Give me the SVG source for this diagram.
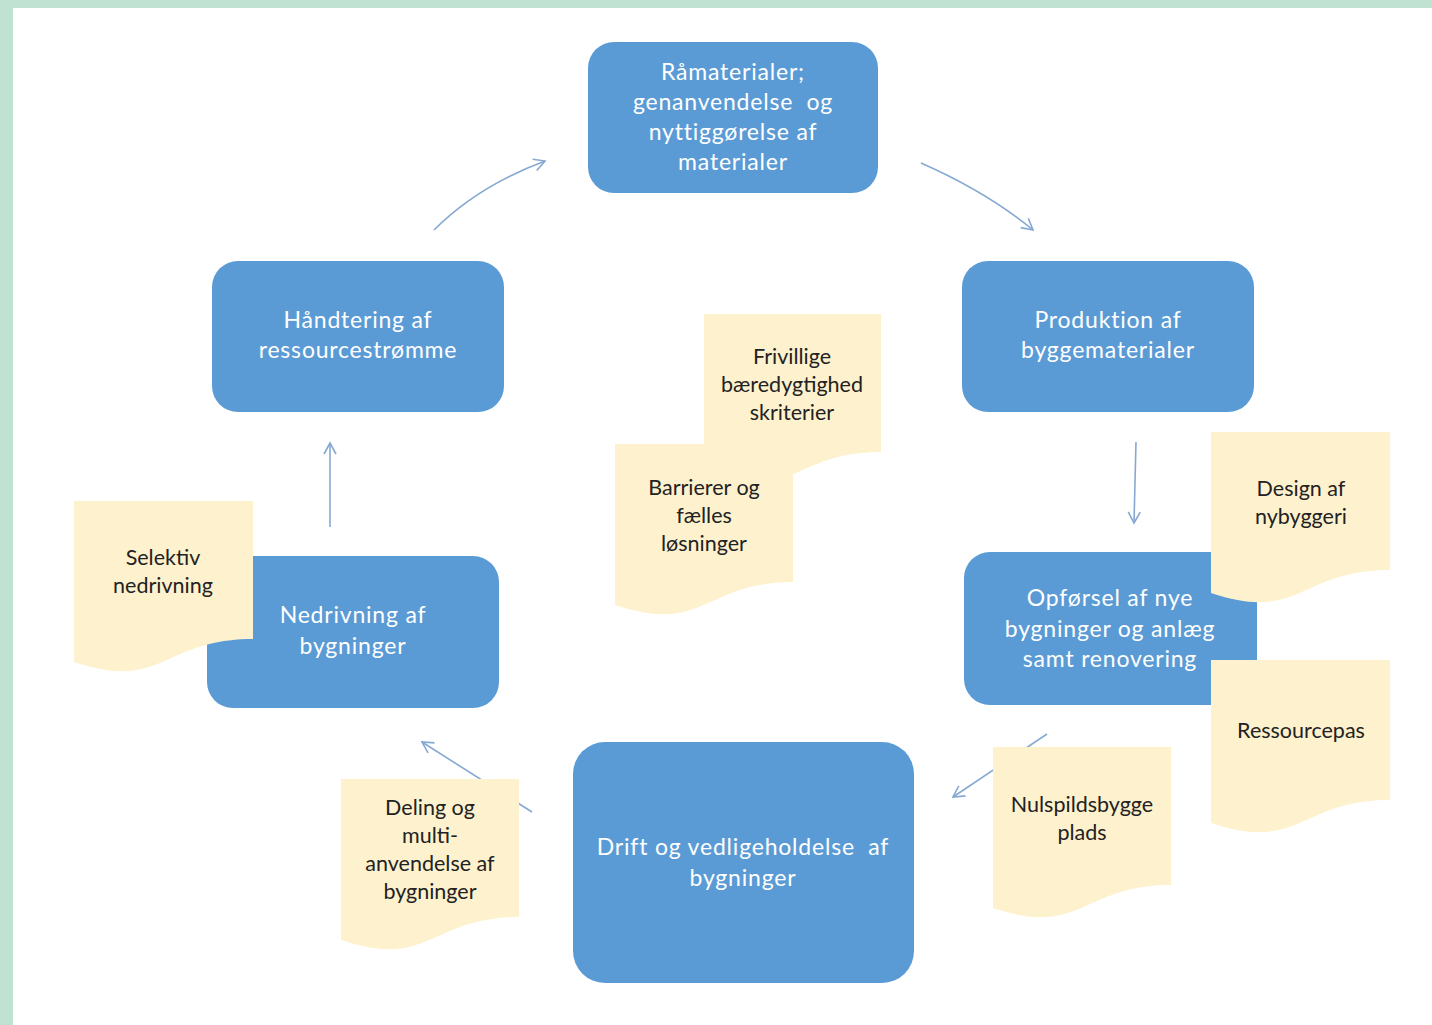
<svg xmlns="http://www.w3.org/2000/svg" width="1432" height="1025" viewBox="0 0 1432 1025">
<style>
.box{fill:#5B9BD5}
.doc{fill:#FEF1CD}
.bt{font-family:Lato,"Open Sans","Liberation Sans",sans-serif;font-size:23px;fill:#fff;text-anchor:middle;letter-spacing:0.8px;white-space:pre}
.dt{font-family:Lato,"Open Sans","Liberation Sans",sans-serif;font-size:21.5px;fill:#222;text-anchor:middle}
.arr{fill:none;stroke:#86A9D2;stroke-width:1.6}
</style>
<defs>
<marker id="ah" viewBox="0 0 14 14" refX="12" refY="7" markerWidth="14" markerHeight="14" markerUnits="userSpaceOnUse" orient="auto">
<path d="M1,1 L12,7 L1,13" fill="none" stroke="#86A9D2" stroke-width="1.6"/>
</marker>
</defs>
<rect width="1432" height="1025" fill="#C0E2D2"/>
<rect x="13" y="8" width="1419" height="1017" fill="#fff"/>

<g id="connectors">
<path class="arr" d="M434,230 Q478,186 545,161" marker-end="url(#ah)"/>
<path class="arr" d="M921,163 Q987,192 1033,230" marker-end="url(#ah)"/>
<path class="arr" d="M1136,442 L1134,523" marker-end="url(#ah)"/>
<path class="arr" d="M1047,734 L953,797" marker-end="url(#ah)"/>
<path class="arr" d="M532,812 L422,742" marker-end="url(#ah)"/>
<path class="arr" d="M330,527 L330,443" marker-end="url(#ah)"/>
</g>

<g id="n-ramaterialer">
<rect class="box" x="588" y="42" width="290" height="151" rx="26"/>
<text class="bt" x="733" y="80">Råmaterialer;</text>
<text class="bt" x="733" y="110" xml:space="preserve">genanvendelse  og</text>
<text class="bt" x="733" y="140">nyttiggørelse af</text>
<text class="bt" x="733" y="170">materialer</text>
</g>

<g id="n-produktion">
<rect class="box" x="962" y="261" width="292" height="151" rx="26"/>
<text class="bt" x="1108" y="328">Produktion af</text>
<text class="bt" x="1108" y="358">byggematerialer</text>
</g>

<g id="n-handtering">
<rect class="box" x="212" y="261" width="292" height="151" rx="26"/>
<text class="bt" x="358" y="328">Håndtering af</text>
<text class="bt" x="358" y="358">ressourcestrømme</text>
</g>

<g id="n-opforsel">
<rect class="box" x="964" y="552" width="293" height="153" rx="26"/>
<text class="bt" x="1110" y="606">Opførsel af nye</text>
<text class="bt" x="1110" y="637">bygninger og anlæg</text>
<text class="bt" x="1110" y="667">samt renovering</text>
</g>

<g id="n-drift">
<rect class="box" x="573" y="742" width="341" height="241" rx="32"/>
<text class="bt" x="743" y="855" xml:space="preserve">Drift og vedligeholdelse  af</text>
<text class="bt" x="743" y="886">bygninger</text>
</g>

<g id="n-nedrivning">
<rect class="box" x="207" y="556" width="292" height="152" rx="26"/>
<text class="bt" x="353" y="623">Nedrivning af</text>
<text class="bt" x="353" y="654">bygninger</text>
</g>

<g id="d-frivillige">
<path class="doc" d="M704,314 H881 V452 C792,452 792,505 704,475 Z"/>
<text class="dt" x="792" y="364">Frivillige</text>
<text class="dt" x="792" y="392">bæredygtighed</text>
<text class="dt" x="792" y="420">skriterier</text>
</g>

<g id="d-barrierer">
<path class="doc" d="M615,444 H793 V582 C704,582 704,635 615,605 Z"/>
<text class="dt" x="704" y="495">Barrierer og</text>
<text class="dt" x="704" y="523">fælles</text>
<text class="dt" x="704" y="551">løsninger</text>
</g>

<g id="d-design">
<path class="doc" d="M1211,432 H1390 V570 C1300,570 1300,623 1211,593 Z"/>
<text class="dt" x="1301" y="496">Design af</text>
<text class="dt" x="1301" y="524">nybyggeri</text>
</g>

<g id="d-ressourcepas">
<path class="doc" d="M1211,660 H1390 V800 C1300,800 1300,853 1211,823 Z"/>
<text class="dt" x="1301" y="738">Ressourcepas</text>
</g>

<g id="d-nulspild">
<path class="doc" d="M993,747 H1171 V885 C1082,885 1082,938 993,908 Z"/>
<text class="dt" x="1082" y="812">Nulspildsbygge</text>
<text class="dt" x="1082" y="840">plads</text>
</g>

<g id="d-deling">
<path class="doc" d="M341,779 H519 V917 C430,917 430,970 341,940 Z"/>
<text class="dt" x="430" y="815">Deling og</text>
<text class="dt" x="430" y="843">multi-</text>
<text class="dt" x="430" y="871">anvendelse af</text>
<text class="dt" x="430" y="899">bygninger</text>
</g>

<g id="d-selektiv">
<path class="doc" d="M74,501 H253 V639 C163,639 163,692 74,662 Z"/>
<text class="dt" x="163" y="565">Selektiv</text>
<text class="dt" x="163" y="593">nedrivning</text>
</g>
</svg>
